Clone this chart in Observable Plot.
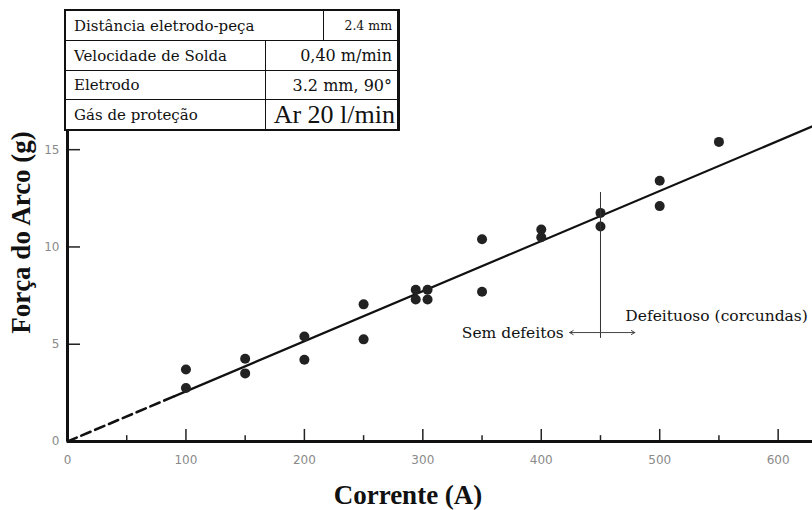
<!DOCTYPE html>
<html>
<head>
<meta charset="utf-8">
<script src="https://cdn.jsdelivr.net/npm/d3@7"></script>
<script src="https://cdn.jsdelivr.net/npm/@observablehq/plot@0.6"></script>
<style>
  html, body { margin: 0; padding: 0; background: #fff; }
  #wrap { position: relative; width: 812px; height: 510px; overflow: hidden; }
  #tbl { position: absolute; left: 64px; top: 9px; width: 336px; background: #fff;
         border: 2px solid #111; border-right: 3px solid #111; box-sizing: border-box;
         font-family: "DejaVu Serif", serif; color: #111; }
  .row { display: flex; height: 29px; box-sizing: border-box; border-top: 1.5px solid #111; }
  .row:first-child { border-top: none; }
  .lab { padding-left: 8px; display: flex; align-items: center; box-sizing: border-box;
         border-right: 1.5px solid #111; font-size: 15px; white-space: nowrap; overflow: hidden; }
  .val { flex: 1; display: flex; align-items: center; justify-content: flex-end; padding-right: 5px;
         font-size: 16px; white-space: nowrap; overflow: hidden; }
</style>
</head>
<body>
<div id="wrap"></div>
<script>
const currents = [100, 100, 150, 150, 200, 200, 250, 250, 294, 294, 304, 304, 350, 350, 400, 400, 450, 450, 500, 500, 550];
const forces   = [3.7, 2.75, 4.25, 3.5, 5.4, 4.2, 7.05, 5.25, 7.8, 7.3, 7.8, 7.3, 10.4, 7.7, 10.9, 10.5, 11.75, 11.05, 13.4, 12.1, 15.4];

// Fitted line (dashed extrapolation + solid part)
const fitDashedX = [0, 90];
const fitDashedY = [0, 2.32];
const fitSolidX  = [90, 629];
const fitSolidY  = [2.32, 16.2];

// Ticks
const xTicks = [0, 100, 200, 300, 400, 500, 600];
const xMinorTicks = [50, 150, 250, 350, 450, 550];
const yTicks = [0, 5, 10, 15];

// Defect boundary annotation
const boundaryCurrent = 450;
const boundaryRange = [5.3, 12.8];
const arrowLevel = 5.6;
const arrowEnds = [424, 479];
const leftNote = "Sem defeitos";
const rightNote = "Defeituoso (corcundas)";
const rightNoteAt = { x: 471, y: 6.45 };

// Welding parameters table
const tableLabels = ["Distância eletrodo-peça", "Velocidade de Solda", "Eletrodo", "Gás de proteção"];
const tableValues = ["2.4 mm", "0,40 m/min", "3.2  mm, 90°", "Ar 20 l/min"];

const xTitle = "Corrente (A)";
const yTitle = "Força do Arco (g)";

const points = currents.map((c, i) => ({ current: c, force: forces[i] }));
const dashed = fitDashedX.map((x, i) => ({ x, y: fitDashedY[i] }));
const solid = fitSolidX.map((x, i) => ({ x, y: fitSolidY[i] }));

const serif = "Liberation Serif, serif";

const chart = Plot.plot({
  width: 812,
  height: 510,
  marginLeft: 67,
  marginRight: 0,
  marginTop: 13,
  marginBottom: 69,
  style: { background: "#fff", fontFamily: "DejaVu Sans, sans-serif" },
  x: { domain: [0, 629] },
  y: { domain: [0, 22] },
  marks: [
    Plot.axisX({ ticks: xTicks, tickSize: 0, tickPadding: 14, fontSize: 12, color: "#8a8a8a", label: null, tickFormat: d => String(d) }),
    Plot.axisY({ ticks: yTicks, tickSize: 0, tickPadding: 8, fontSize: 12, color: "#8a8a8a", label: null, tickFormat: d => String(d) }),
    // inward ticks
    Plot.ruleX(xTicks.filter(d => d > 0), { x: d => d, y1: 0, y2: 0.62, stroke: "#222", strokeWidth: 1.5 }),
    Plot.ruleX(xMinorTicks, { x: d => d, y1: 0, y2: 0.3, stroke: "#222", strokeWidth: 1.5 }),
    Plot.ruleY(yTicks.filter(d => d > 0), { y: d => d, x1: 0, x2: 11, stroke: "#222", strokeWidth: 1.5 }),
    // fitted line
    Plot.line(dashed, { x: "x", y: "y", stroke: "#111", strokeWidth: 2.6, strokeDasharray: "10,5" }),
    Plot.line(solid, { x: "x", y: "y", stroke: "#111", strokeWidth: 2.2 }),
    // data
    Plot.dot(points, { x: "current", y: "force", r: 5, fill: "#222", stroke: "none" }),
    // boundary annotation
    Plot.ruleX([boundaryCurrent], { y1: boundaryRange[0], y2: boundaryRange[1], stroke: "#333", strokeWidth: 1 }),
    Plot.arrow(arrowEnds, { x1: boundaryCurrent, x2: d => d, y1: arrowLevel, y2: arrowLevel, stroke: "#444", strokeWidth: 1, headLength: 6 }),
    Plot.text([leftNote], { x: arrowEnds[0], y: arrowLevel, text: d => d, textAnchor: "end", dx: -6, fontSize: 15.5, fontFamily: "DejaVu Serif, serif", fill: "#111" }),
    Plot.text([rightNote], { x: rightNoteAt.x, y: rightNoteAt.y, text: d => d, textAnchor: "start", fontSize: 15.5, fontFamily: "DejaVu Serif, serif", fill: "#111" }),
    // axes lines
    Plot.ruleY([0], { stroke: "#111", strokeWidth: 3 }),
    Plot.ruleX([0], { stroke: "#111", strokeWidth: 3 }),
    // titles
    Plot.text([xTitle], { frameAnchor: "bottom", text: d => d, textAnchor: "middle", dx: -32, dy: 62, fontSize: 27, fontWeight: "bold", fontFamily: serif, fill: "#111" }),
    Plot.text([yTitle], { frameAnchor: "left", text: d => d, textAnchor: "middle", rotate: -90, dx: -46, dy: 5, fontSize: 27, fontWeight: "bold", fontFamily: serif, fill: "#111" })
  ]
});

const wrap = document.getElementById("wrap");
wrap.appendChild(chart);

// Parameter table overlay
const tbl = document.createElement("div");
tbl.id = "tbl";
tableLabels.forEach((lab, i) => {
  const row = document.createElement("div");
  row.className = "row";
  if (i === 1 || i === 3) row.style.height = "30px";
  const a = document.createElement("div");
  a.className = "lab";
  a.style.width = (i === 0 ? 258 : 200) + "px";
  a.textContent = lab;
  const b = document.createElement("div");
  b.className = "val";
  b.textContent = tableValues[i];
  if (i === 0) { b.style.fontSize = "12.5px"; }
  if (i === 3) { b.style.fontFamily = "Liberation Serif, serif"; b.style.fontSize = "26px"; b.style.paddingRight = "2px"; }
  row.appendChild(a);
  row.appendChild(b);
  tbl.appendChild(row);
});
wrap.appendChild(tbl);
</script>
</body>
</html>
